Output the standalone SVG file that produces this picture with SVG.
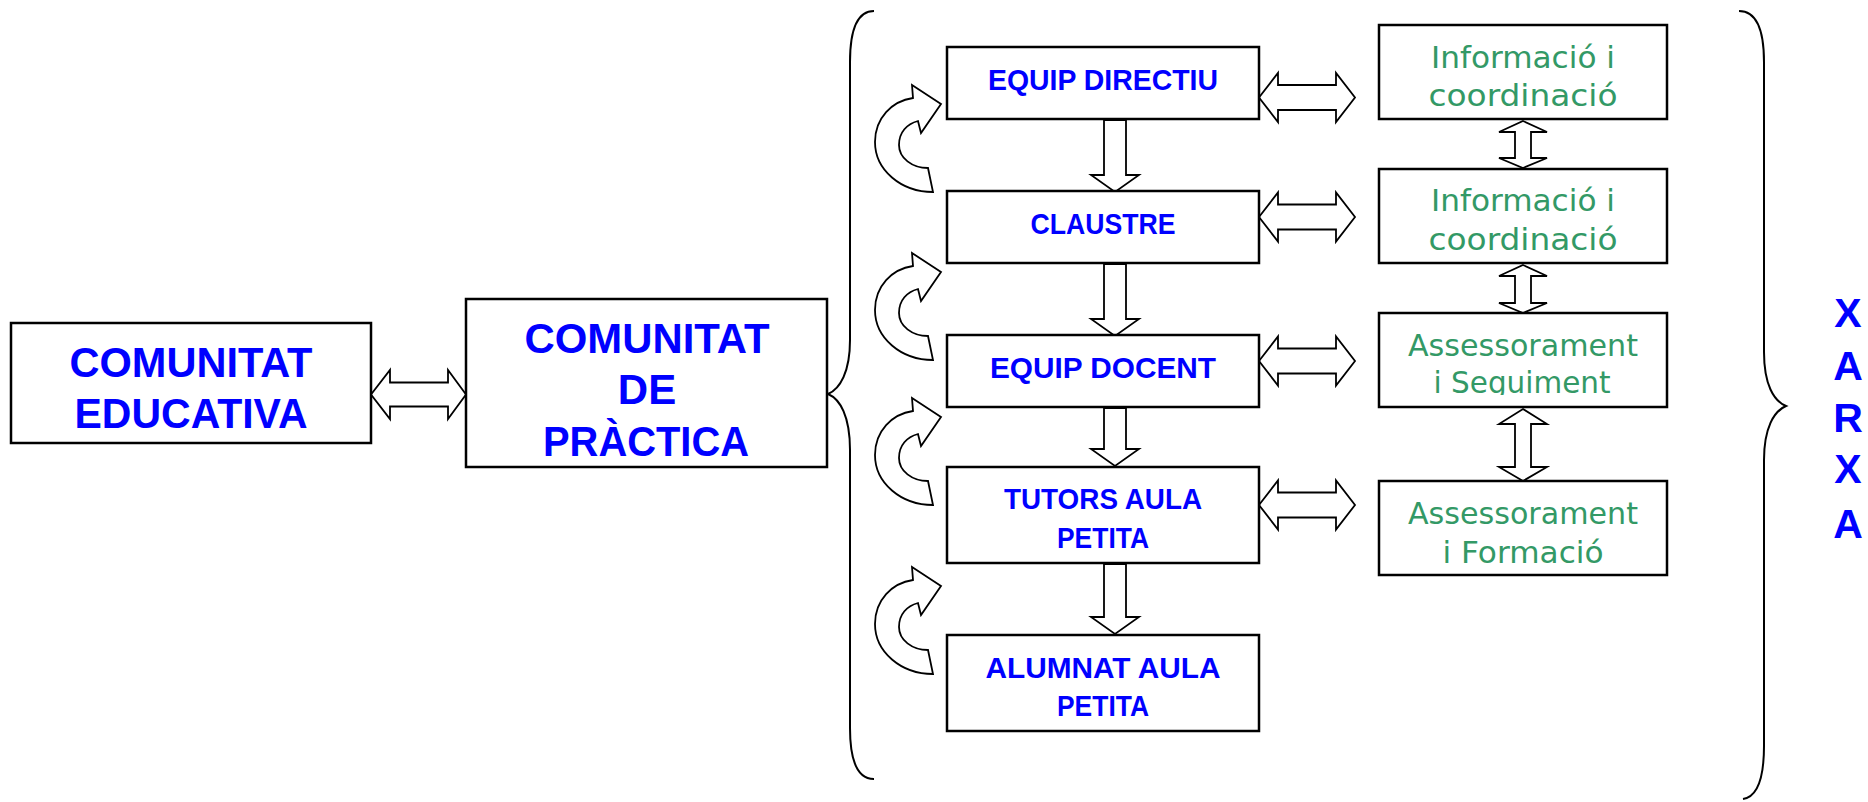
<svg xmlns="http://www.w3.org/2000/svg" width="1868" height="802" viewBox="0 0 1868 802">
<style>
.box{fill:#fff;stroke:#000;stroke-width:2.5}
.arr{fill:#fff;stroke:#000;stroke-width:1.8;stroke-linejoin:miter}
.brace{fill:none;stroke:#000;stroke-width:2}
.big{font-family:"Liberation Sans",Arial,sans-serif;font-weight:bold;font-size:42px;fill:#0000ff;text-anchor:middle}
.mid{font-family:"Liberation Sans",Arial,sans-serif;font-weight:bold;font-size:30px;fill:#0000ff;text-anchor:middle}
.grn{font-family:"DejaVu Sans","Liberation Sans",sans-serif;font-size:30px;fill:#339966;text-anchor:middle}
.xa{font-family:"Liberation Sans",Arial,sans-serif;font-weight:bold;font-size:41px;fill:#0000ff;text-anchor:middle}
</style>
<defs>
<path id="cyc" class="arr" d="M73,122 C41,122 15,100 15,72 C15,48 32,31 53,28 L52,15 L81,34 L61,63 L58,51 C47,54 39,62 39,75 C39,88 52,98 68,98 Z"/>
<clipPath id="clip3"><rect x="1379" y="313" width="288" height="82"/></clipPath>
</defs>
<rect width="1868" height="802" fill="#fff"/>

<g id="connectors">
<polygon class="arr" points="371,394.5 390,370 390,382.5 448,382.5 448,370 466,394.5 448,419 448,406.5 390,406.5 390,419"/>
<path class="brace" d="M874,11 C858,11 850,28 850,62 L850,340 C850,372 840,389 828,394 C840,399 850,416 850,450 L850,728 C850,762 858,779 874,779"/>
<path class="brace" d="M1739,11 C1755,11 1764,28 1764,62 L1764,352 C1764,385 1774,401 1786,406 C1774,411 1764,428 1764,460 L1764,746 C1764,780 1756,797 1743,799"/>
<use href="#cyc" transform="translate(860,70)"/>
<use href="#cyc" transform="translate(860,238)"/>
<use href="#cyc" transform="translate(860,383)"/>
<use href="#cyc" transform="translate(860,552)"/>
<polygon class="arr" points="1104,120 1126,120 1126,175 1139,175 1115,192 1091,175 1104,175"/>
<polygon class="arr" points="1104,264 1126,264 1126,319 1139,319 1115,336 1091,319 1104,319"/>
<polygon class="arr" points="1104,408 1126,408 1126,449 1139,449 1115,466 1091,449 1104,449"/>
<polygon class="arr" points="1104,564 1126,564 1126,617 1139,617 1115,634 1091,617 1104,617"/>
<polygon class="arr" points="1259,97.5 1278,73 1278,85 1336,85 1336,73 1355,97.5 1336,122 1336,110 1278,110 1278,122"/>
<polygon class="arr" points="1259,217 1278,192.5 1278,204.5 1336,204.5 1336,192.5 1355,217 1336,241.5 1336,229.5 1278,229.5 1278,241.5"/>
<polygon class="arr" points="1259,361 1278,336.5 1278,348.5 1336,348.5 1336,336.5 1355,361 1336,385.5 1336,373.5 1278,373.5 1278,385.5"/>
<polygon class="arr" points="1259,505 1278,480.5 1278,492.5 1336,492.5 1336,480.5 1355,505 1336,529.5 1336,517.5 1278,517.5 1278,529.5"/>
<polygon class="arr" points="1523,121 1547,132 1531,132 1531,158 1547,158 1523,168 1499,158 1515,158 1515,132 1499,132"/>
<polygon class="arr" points="1523,265 1547,276 1531,276 1531,303 1547,303 1523,313 1499,303 1515,303 1515,276 1499,276"/>
<polygon class="arr" points="1523,409 1547,424 1531,424 1531,467 1547,467 1523,481 1499,467 1515,467 1515,424 1499,424"/>
</g>

<g id="comunitat-educativa">
<rect class="box" x="11" y="323" width="360" height="120"/>
<text class="big" x="191" y="377" textLength="243" lengthAdjust="spacingAndGlyphs">COMUNITAT</text>
<text class="big" x="191" y="428" textLength="233" lengthAdjust="spacingAndGlyphs">EDUCATIVA</text>
</g>

<g id="comunitat-practica">
<rect class="box" x="466" y="299" width="361" height="168"/>
<text class="big" x="647" y="353" textLength="245" lengthAdjust="spacingAndGlyphs">COMUNITAT</text>
<text class="big" x="647" y="404">DE</text>
<text class="big" x="646" y="456" textLength="206" lengthAdjust="spacingAndGlyphs">PRÀCTICA</text>
</g>

<g id="equip-directiu">
<rect class="box" x="947" y="47" width="312" height="72"/>
<text class="mid" x="1103" y="90" textLength="230" lengthAdjust="spacingAndGlyphs">EQUIP DIRECTIU</text>
</g>
<g id="claustre">
<rect class="box" x="947" y="191" width="312" height="72"/>
<text class="mid" x="1103" y="234" textLength="145" lengthAdjust="spacingAndGlyphs">CLAUSTRE</text>
</g>
<g id="equip-docent">
<rect class="box" x="947" y="335" width="312" height="72"/>
<text class="mid" x="1103" y="378" textLength="226" lengthAdjust="spacingAndGlyphs">EQUIP DOCENT</text>
</g>
<g id="tutors">
<rect class="box" x="947" y="467" width="312" height="96"/>
<text class="mid" x="1103" y="509" textLength="198" lengthAdjust="spacingAndGlyphs">TUTORS AULA</text>
<text class="mid" x="1103" y="548" textLength="92" lengthAdjust="spacingAndGlyphs">PETITA</text>
</g>
<g id="alumnat">
<rect class="box" x="947" y="635" width="312" height="96"/>
<text class="mid" x="1103" y="678" textLength="235" lengthAdjust="spacingAndGlyphs">ALUMNAT AULA</text>
<text class="mid" x="1103" y="716" textLength="92" lengthAdjust="spacingAndGlyphs">PETITA</text>
</g>

<g id="info1">
<rect class="box" x="1379" y="25" width="288" height="94"/>
<text class="grn" x="1523" y="68" textLength="184" lengthAdjust="spacingAndGlyphs">Informació i</text>
<text class="grn" x="1523" y="106" textLength="189" lengthAdjust="spacingAndGlyphs">coordinació</text>
</g>
<g id="info2">
<rect class="box" x="1379" y="169" width="288" height="94"/>
<text class="grn" x="1523" y="211" textLength="184" lengthAdjust="spacingAndGlyphs">Informació i</text>
<text class="grn" x="1523" y="250" textLength="189" lengthAdjust="spacingAndGlyphs">coordinació</text>
</g>
<g id="assess1">
<rect class="box" x="1379" y="313" width="288" height="94"/>
<text class="grn" x="1523" y="356" textLength="230" lengthAdjust="spacingAndGlyphs">Assessorament</text>
<text class="grn" x="1522" y="393" textLength="177" lengthAdjust="spacingAndGlyphs" clip-path="url(#clip3)">i Seguiment</text>
</g>
<g id="assess2">
<rect class="box" x="1379" y="481" width="288" height="94"/>
<text class="grn" x="1523" y="524" textLength="230" lengthAdjust="spacingAndGlyphs">Assessorament</text>
<text class="grn" x="1523" y="563" textLength="161" lengthAdjust="spacingAndGlyphs">i Formació</text>
</g>

<g id="xarxa">
<text class="xa" x="1848" y="327">X</text>
<text class="xa" x="1848" y="380">A</text>
<text class="xa" x="1848" y="432">R</text>
<text class="xa" x="1848" y="483">X</text>
<text class="xa" x="1848" y="538">A</text>
</g>
</svg>
